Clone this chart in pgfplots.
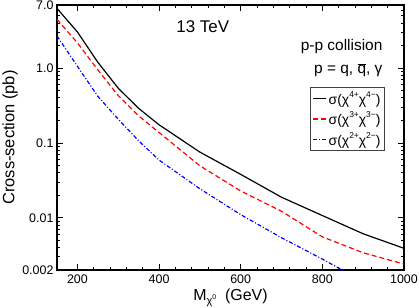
\documentclass[border=0pt]{standalone}
\usepackage{fontspec}
\setmainfont{Liberation Sans}
\usepackage{pgfplots}
\pgfplotsset{compat=1.18}
\newcommand{\supx}[1]{\raisebox{0.95ex}{\fontsize{8.5}{10}\selectfont #1}}
\begin{document}
\begin{tikzpicture}
\begin{axis}[
  scale only axis, width=347bp, height=265bp,
  xmin=150, xmax=1000, ymode=log, ymin=0.002, ymax=7,
  /pgf/number format/assume math mode=true,
  /pgf/number format/1000 sep={},
  xtick={200,400,600,800,1000}, xticklabels={200,400,600,800,1000}, minor x tick num=4,
  ytick={0.002,0.01,0.1,1,7}, yticklabels={0.002,0.01,0.1,1.0,7.0},
  minor ytick={0.003,0.004,0.005,0.006,0.007,0.008,0.009,0.02,0.03,0.04,0.05,0.06,0.07,0.08,0.09,0.2,0.3,0.4,0.5,0.6,0.7,0.8,0.9,2,3,4,5,6},
  tick align=inside, major tick length=6bp, minor tick length=3bp,
  every tick/.style={black, line width=0.9pt},
  axis line style={line width=1.1pt},
  tick label style={font=\fontsize{12.5}{14}\selectfont},
  xticklabel style={yshift=-1bp},
  ylabel={Cross-section (pb)},
  ylabel style={font=\fontsize{16.5}{18}\selectfont, at={(axis description cs:-0.135,0.5)}, anchor=center},
  xlabel={M\raisebox{-0.45ex}{\fontsize{11}{12}\selectfont χ\raisebox{0.9ex}{\fontsize{7}{8}\selectfont 0}}\ \ (GeV)},
  xlabel style={font=\fontsize{16}{18}\selectfont, at={(axis description cs:0.5,0)}, anchor=center, yshift=-28bp},
  legend style={at={(rel axis cs:0.945,0.69)}, anchor=north east, draw=black!75, line width=0.8pt, font=\fontsize{14}{16}\selectfont, inner xsep=2pt, inner ysep=2pt, row sep=2pt, legend cell align=left},
  legend image code/.code={\draw[#1, line width=1.3pt] (0bp,0bp) -- (13bp,0bp);},
]
\addplot[black, line width=1.2pt] coordinates {
(150,6.3) (200,3.05) (250,1.2) (300,0.54) (350,0.29) (400,0.175) (500,0.0755) (600,0.038) (700,0.0188) (800,0.0107) (900,0.0061) (1000,0.0039)};
\addplot[red, line width=1.2pt, dash pattern=on 5bp off 3bp] coordinates {
(150,4.5) (200,2.18) (250,0.95) (300,0.43) (350,0.23) (400,0.138) (500,0.0495) (600,0.0228) (700,0.0122) (800,0.00555) (900,0.0034) (1000,0.0024)};
\addplot[blue, line width=1.2pt, dash pattern=on 4bp off 2bp on 1bp off 2bp] coordinates {
(150,2.7) (200,1.06) (250,0.42) (300,0.208) (350,0.107) (400,0.059) (500,0.0244) (600,0.011) (700,0.0054) (800,0.0028) (900,0.0014)};
\legend{σ(χ\supx{4+}χ\supx{4−}), σ(χ\supx{3+}χ\supx{3−}), σ(χ\supx{2+}χ\supx{2−})}
\node[font=\fontsize{17}{19}\selectfont] at (rel axis cs:0.42,0.92) {13 TeV};
\node[font=\fontsize{15.5}{18}\selectfont, anchor=east] at (rel axis cs:0.948,0.842) {p-p collision};
\node[font=\fontsize{15.5}{18}\selectfont, anchor=east] at (rel axis cs:0.948,0.755) {p = q, \ensuremath{\overline{\mbox{q}}}, γ};
\end{axis}
\pgfresetboundingbox
\path[use as bounding box] (-57bp,-38bp) rectangle (363bp,270bp);
\end{tikzpicture}
\end{document}
